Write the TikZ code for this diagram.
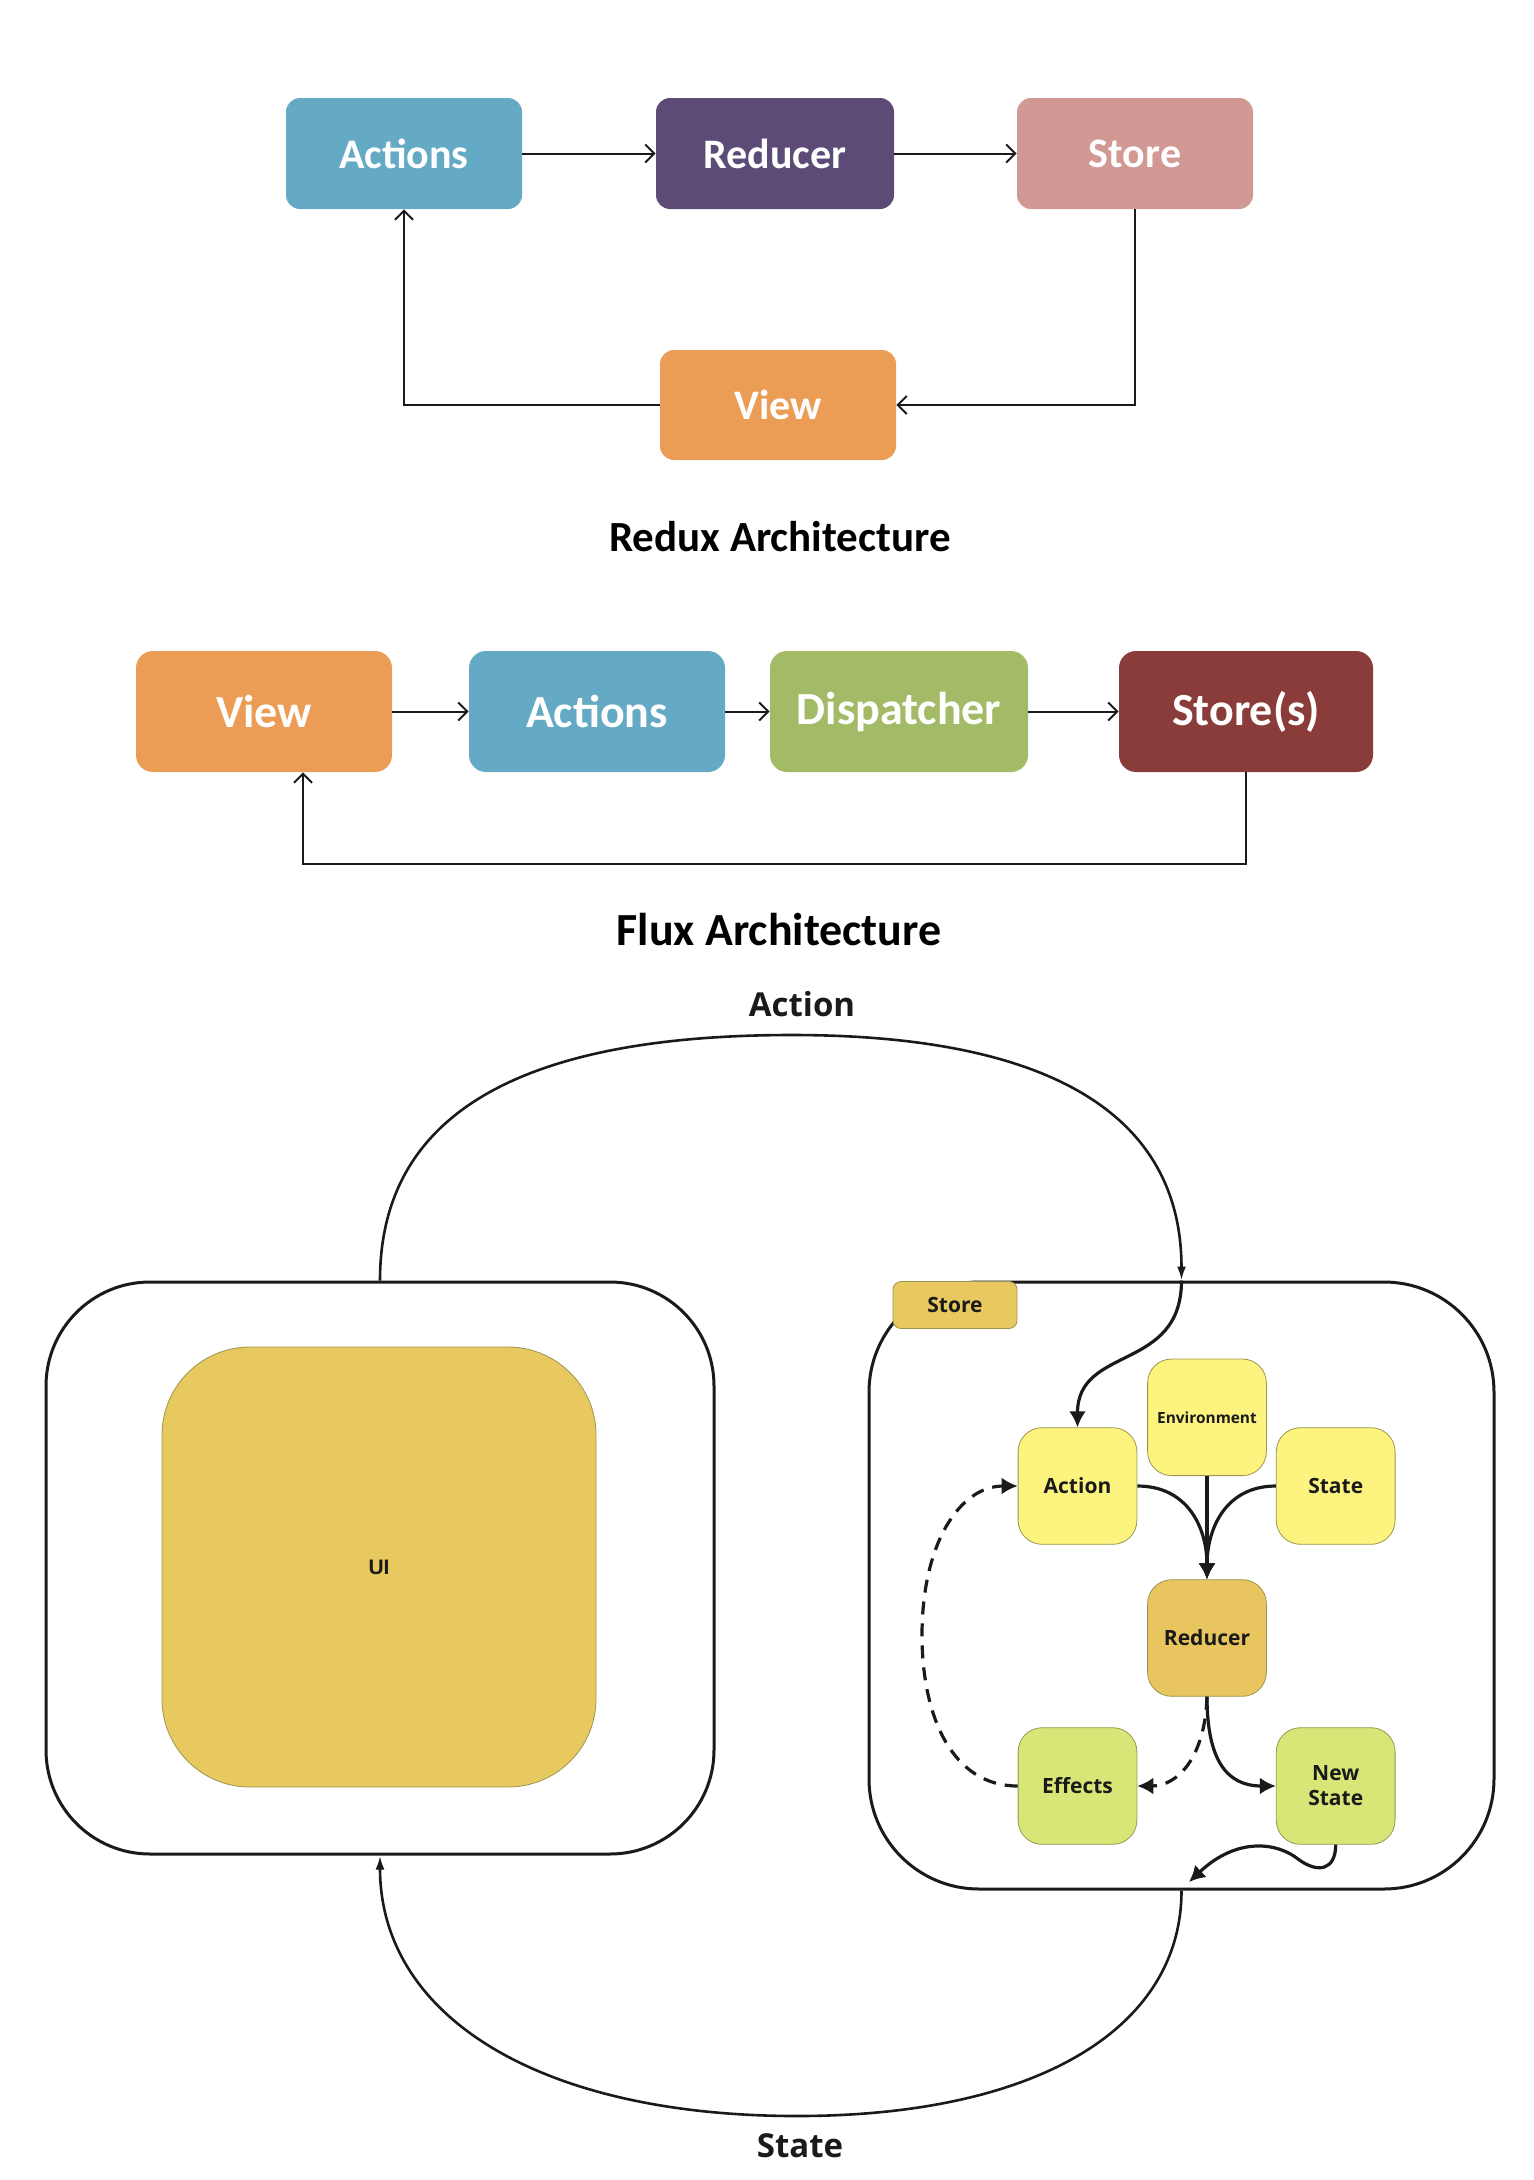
\documentclass[tikz,border=0pt]{standalone}
\usepackage{fontspec}
\setmainfont{Carlito}
\newfontfamily\osans{Open Sans}
\newfontfamily\lsans{Liberation Sans}
\usetikzlibrary{arrows.meta}

\definecolor{rblue}{HTML}{65AAC4}
\definecolor{rpurple}{HTML}{5D4B77}
\definecolor{rpink}{HTML}{D19894}
\definecolor{rorange}{HTML}{EB9C55}
\definecolor{fgreen}{HTML}{A3BB67}
\definecolor{fred}{HTML}{8A3C3A}
\definecolor{gold}{HTML}{E8C95F}
\definecolor{lyellow}{HTML}{FDF480}
\definecolor{dgold}{HTML}{E8C55E}
\definecolor{lgreen}{HTML}{D8E677}
\definecolor{olive}{HTML}{9C9550}
\definecolor{ink}{HTML}{1A1A1A}

\begin{document}
\begin{tikzpicture}[x=0.5pt,y=-0.5pt,
  rbox/.style={rectangle, rounded corners=7pt, inner sep=0pt, minimum width=118pt, minimum height=55.5pt, text=white, font=\fontsize{21}{25}\selectfont\bfseries},
  fbox/.style={rbox, rounded corners=8.5pt, minimum height=60.5pt, font=\fontsize{23}{27}\selectfont\bfseries},
  flow/.style={line width=1pt, draw=ink, -{Straight Barb[length=4.5pt,width=9pt,line width=1pt]}},
  ttl/.style={font=\fontsize{21.5}{25}\selectfont\bfseries, text=black},
  bigbox/.style={rectangle, draw=ink, line width=1.5pt, inner sep=0pt},
  ibox/.style={rectangle, rounded corners=12pt, draw=olive, line width=0.4pt, minimum width=59.4pt, minimum height=58.3pt, inner sep=0pt, font=\osans\bfseries\fontsize{10.5}{12.5}\selectfont, text=ink, align=center},
  iarr/.style={line width=1.6pt, draw=ink, -{Latex[length=8pt,width=8.5pt]}},
  arc/.style={line width=1.3pt, draw=ink, -{Latex[length=7pt,width=4.5pt]}},
  lbl/.style={font=\osans\bfseries\fontsize{16.5}{19}\selectfont, text=ink}
]
\useasboundingbox (0,0) rectangle (1534,2180);

% ---------------- Redux ----------------
\node[rbox, fill=rblue]   (rActions) at (404,153.5) {Actions};
\node[rbox, fill=rpurple, minimum width=119pt] (rReducer) at (775,153.5) {Reducer};
\node[rbox, fill=rpink]   (rStore)   at (1135,153.5) {Store};
\node[rbox, fill=rorange, minimum height=55pt] (rView) at (778,405) {View};
\draw[flow] (rActions.east) -- (rReducer.west);
\draw[flow] (rReducer.east) -- (rStore.west);
\draw[flow] (rStore.south) |- (rView.east);
\draw[flow] (rView.west) -| (rActions.south);
\node[ttl] (reduxTitle) at (780,537) {Redux Architecture};

% ---------------- Flux ----------------
\node[fbox, fill=rorange, minimum width=128pt] (fView)    at (264,711.5) {View};
\node[fbox, fill=rblue,   minimum width=128pt] (fActions) at (597,711.5) {Actions};
\node[fbox, fill=fgreen,  minimum width=129pt] (fDisp)    at (899,711.5) {Dispatcher};
\node[fbox, fill=fred,    minimum width=127pt] (fStore)   at (1246,711.5) {Store(s)};
\draw[flow] (fView.east) -- (fActions.west);
\draw[flow] (fActions.east) -- (fDisp.west);
\draw[flow] (fDisp.east) -- (fStore.west);
\coordinate (fbL) at (303,864);
\draw[flow] (fStore.south) |- (fbL) -- (fbL |- fView.south);
\node[ttl, font=\fontsize{23}{27}\selectfont\bfseries] (fluxTitle) at (779,930) {Flux Architecture};

% ---------------- Bottom ----------------
\node[bigbox, rounded corners=52pt, minimum width=334pt, minimum height=286pt] (leftBox) at (380,1568) {};
\node[rectangle, rounded corners=44pt, fill=gold, draw=olive, line width=0.4pt, minimum width=217pt, minimum height=220pt, inner sep=0pt, font=\lsans\bfseries\fontsize{10.5}{12}\selectfont, text=ink] (ui) at (379,1567) {UI};

\node[bigbox, rounded corners=55pt, minimum width=312.5pt, minimum height=303.5pt] (rightBox) at (1181.5,1585.5) {};
\node[rectangle, rounded corners=4pt, fill=gold, draw=olive, line width=0.4pt, minimum width=62pt, minimum height=23.5pt, inner sep=0pt, font=\osans\bfseries\fontsize{10.5}{12.5}\selectfont, text=ink] (storeTag) at (955,1305) {Store};

\node[ibox, fill=lyellow] (sAction)  at (1077.5,1486) {Action};
\node[ibox, fill=lyellow, font=\osans\bfseries\fontsize{7.7}{9}\selectfont] (sEnv) at (1207,1417.3) {Environment};
\node[ibox, fill=lyellow] (sState)   at (1335.7,1486) {State};
\node[ibox, fill=dgold]   (sReducer) at (1207,1638) {Reducer};
\node[ibox, fill=lgreen]  (sEffects) at (1077.5,1786) {Effects};
\node[ibox, fill=lgreen]  (sNew)     at (1335.7,1786) {New\\State};

\node[lbl] (lblAction) at (802,1004) {Action};
\node[lbl] (lblState)  at (800,2146) {State};

% outer arcs
\draw[arc] (leftBox.north) .. controls (380,1116.5) and (516,1035) .. (792,1035)
           .. controls (1053,1035) and (1181.5,1116.5) .. (rightBox.north);
\draw[arc] (rightBox.south) .. controls (1181.5,2029) and (1036,2116) .. (797,2116)
           .. controls (539,2116) and (380,2016) .. (leftBox.south);

% inner connectors
\draw[iarr] (rightBox.north) .. controls (1181.5,1372) and (1077.5,1345) .. (sAction.north);
\draw[iarr] (sAction.east) .. controls (1188,1486) and (1207,1528) .. (sReducer.north);
\draw[iarr] (sEnv.south) -- (sReducer.north);
\draw[iarr] (sState.west) .. controls (1226,1486) and (1207,1528) .. (sReducer.north);
\draw[iarr] (sReducer.south) .. controls (1207,1762) and (1228,1786) .. (sNew.west);
\draw[iarr, dash pattern=on 6.5pt off 4.5pt] (sReducer.south) .. controls (1205,1757) and (1178,1786) .. (sEffects.east);
\draw[iarr, dash pattern=on 6.5pt off 4.5pt] (sEffects.west) .. controls (953,1786) and (922,1718) .. (922,1635)
           .. controls (922,1543) and (960,1486) .. (sAction.west);
\coordinate (nsEnd) at (1189,1882);
\draw[iarr] (sNew.south) .. controls (1335.7,1870) and (1318,1874) .. (1298,1859)
           .. controls (1278,1843) and (1238,1836) .. (nsEnd);
\end{tikzpicture}
\end{document}
